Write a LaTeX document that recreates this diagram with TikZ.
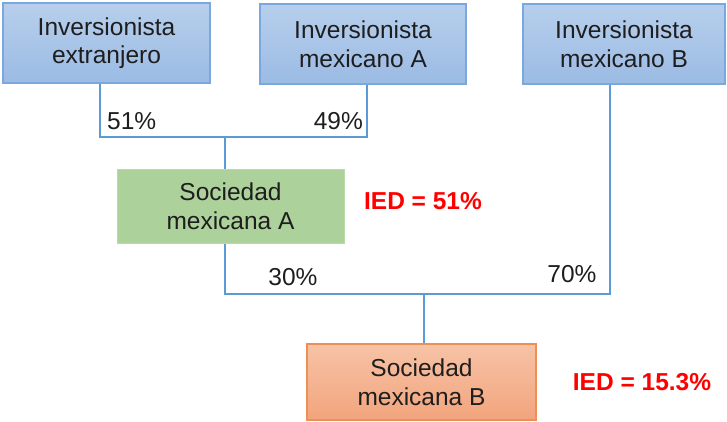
\documentclass[tikz,border=0pt]{standalone}
\usepackage{fontspec}
\setmainfont{Liberation Sans}
\definecolor{bluefillT}{HTML}{B7CFEC}
\definecolor{bluefillB}{HTML}{9BBBE4}
\definecolor{blueedge}{HTML}{79A7DE}
\definecolor{greenfill}{HTML}{ADD19B}
\definecolor{greenedge}{HTML}{B9D9A9}
\definecolor{orangeT}{HTML}{F7C3A6}
\definecolor{orangeB}{HTML}{F2A47D}
\definecolor{orangeedge}{HTML}{EE8F55}
\definecolor{linecol}{HTML}{5B9BD5}
\definecolor{txt}{HTML}{1E1E1E}
\begin{document}
\begin{tikzpicture}[x=1pt,y=-1pt,
  every node/.style={inner sep=0pt,text=txt,font=\fontsize{24.5}{28.5}\selectfont},
  bluebox/.style={draw=blueedge,line width=1.2pt,top color=bluefillT,bottom color=bluefillB,align=center},
  greenbox/.style={draw=greenedge,line width=1pt,fill=greenfill,align=center},
  orangebox/.style={draw=orangeedge,line width=1.2pt,top color=orangeT,bottom color=orangeB,align=center},
  conn/.style={draw=linecol,line width=1.1pt},
  ied/.style={text=red,font=\fontsize{24.5}{28.5}\selectfont\bfseries}]
\useasboundingbox (0,0) rectangle (727,421);
\node[bluebox,minimum width=207pt,minimum height=80pt] (b1) at (106.5,43) {Inversionista\\extranjero};
\node[bluebox,minimum width=206pt,minimum height=80pt] (b2) at (363,44) {Inversionista\\mexicano A};
\node[bluebox,minimum width=202pt,minimum height=80pt] (b3) at (624,44) {Inversionista\\mexicano B};
\node[greenbox,minimum width=227pt,minimum height=74pt] (g) at (230.5,206) {Sociedad\\mexicana A};
\node[orangebox,minimum width=229pt,minimum height=76pt] (o) at (421.5,382) {Sociedad\\mexicana B};
\coordinate (j1) at (100,137);
\coordinate (j2) at (367,137);
\coordinate (j3) at (225,137);
\coordinate (k1) at (225,294);
\coordinate (k2) at (610,294);
\coordinate (k3) at (424,294);
\draw[conn] (b1.south -| j1) -- (j1) -- (j2) -- (j2 |- b2.south);
\draw[conn] (j3) -- (j3 |- g.north);
\draw[conn] (g.south -| k1) -- (k1) -- (k2) -- (k2 |- b3.south);
\draw[conn] (k3) -- (k3 |- o.north);
\node[anchor=west] (p51) at (107,121) {51\%};
\node[anchor=east] (p49) at (363,121) {49\%};
\node (p30) at (293,277) {30\%};
\node (p70) at (572,274) {70\%};
\node[ied] (i1) at (423,201) {IED = 51\%};
\node[ied] (i2) at (642,382) {IED = 15.3\%};
\end{tikzpicture}
\end{document}
